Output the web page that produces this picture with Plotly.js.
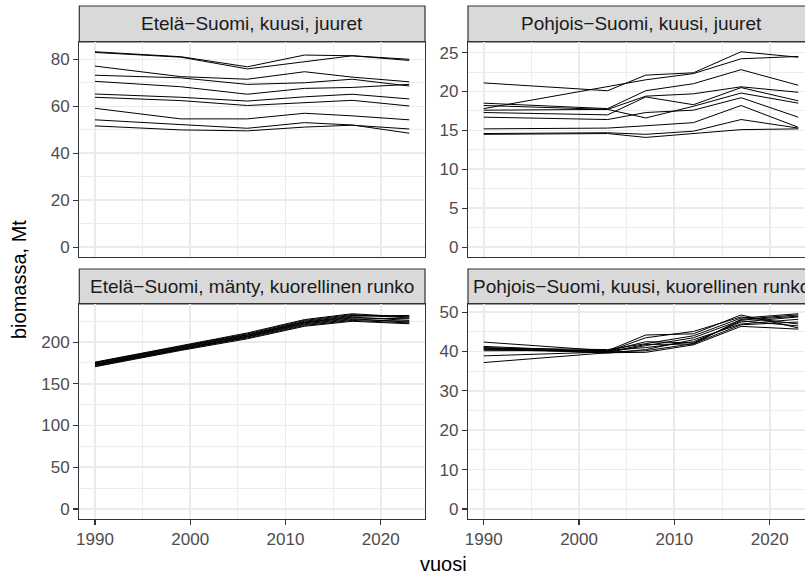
<!DOCTYPE html>
<html>
<head>
<meta charset="utf-8">
<script src="https://cdn.plot.ly/plotly-3.0.1.min.js"></script>
<style>
html,body{margin:0;padding:0;overflow:hidden;background:#fff;width:805px;height:576px;}
#chart{width:815px;height:576px;}
</style>
</head>
<body>
<div id="chart"></div>
<script>
// ---- data ----
const panelTitles = [
  "Etelä−Suomi, kuusi, juuret",
  "Pohjois−Suomi, kuusi, juuret",
  "Etelä−Suomi, mänty, kuorellinen runko",
  "Pohjois−Suomi, kuusi, kuorellinen runko"
];
const yearsSouth = [1990, 1999, 2006, 2012, 2017, 2023];
const yearsNorth = [1990, 2003, 2007, 2012, 2017, 2023];

const etelaKuusiJuuret = [
  [83.3, 81.2, 76.9, 81.9, 81.6, 80.1],
  [83.0, 81.0, 76.0, 79.1, 81.6, 79.6],
  [77.2, 72.7, 71.6, 74.8, 72.5, 70.5],
  [73.3, 72.2, 69.4, 70.1, 71.6, 68.7],
  [70.7, 68.4, 65.2, 67.7, 68.1, 69.4],
  [65.3, 63.9, 62.3, 64.1, 65.2, 63.2],
  [63.9, 62.5, 60.4, 61.6, 62.6, 60.2],
  [59.2, 54.7, 54.7, 57.1, 56.0, 54.3],
  [54.3, 52.1, 50.7, 53.1, 52.1, 48.6],
  [51.7, 50.0, 49.6, 51.2, 52.0, 50.4]
];
const pohjoisKuusiJuuret = [
  [21.1, 20.1, 22.1, 22.4, 25.1, 24.4],
  [17.8, 20.7, 21.5, 22.3, 24.2, 24.5],
  [18.5, 17.8, 20.1, 21.0, 22.8, 20.8],
  [17.6, 17.7, 19.4, 19.7, 20.6, 19.9],
  [17.3, 17.0, 19.3, 18.3, 20.5, 18.8],
  [18.2, 17.7, 16.6, 18.1, 19.8, 18.5],
  [16.7, 16.4, 17.3, 17.6, 19.2, 16.7],
  [15.2, 15.3, 15.6, 16.0, 18.2, 15.4],
  [14.6, 14.7, 14.5, 14.9, 16.4, 15.3],
  [14.5, 14.6, 14.1, 14.6, 15.1, 15.2]
];
const etelaMantyRunko = [
  [176.0, 196.0, 211.0, 227.0, 234.0, 230.0],
  [175.5, 195.0, 210.0, 226.0, 233.0, 229.0],
  [175.0, 194.5, 209.0, 225.0, 232.0, 231.0],
  [174.0, 194.0, 208.5, 224.0, 231.0, 232.0],
  [173.5, 193.0, 208.0, 223.5, 230.0, 226.0],
  [173.0, 192.5, 207.0, 223.0, 229.0, 228.0],
  [172.5, 192.0, 206.5, 222.0, 228.0, 224.0],
  [172.0, 191.5, 206.0, 221.0, 227.0, 225.0],
  [171.0, 191.0, 205.0, 220.0, 226.0, 223.0],
  [170.5, 190.0, 204.0, 219.0, 225.0, 222.0]
];
const pohjoisKuusiRunko = [
  [42.4, 40.2, 44.2, 44.5, 49.3, 46.0],
  [41.3, 40.0, 43.5, 45.1, 48.8, 47.0],
  [40.9, 40.5, 42.0, 44.0, 48.5, 49.6],
  [40.5, 39.8, 41.5, 43.5, 48.0, 49.0],
  [40.2, 40.3, 41.0, 42.5, 47.5, 48.8],
  [40.9, 39.6, 40.5, 43.0, 47.0, 48.2],
  [38.9, 40.0, 40.2, 42.0, 46.8, 47.5],
  [37.2, 39.7, 39.8, 41.7, 46.4, 45.7],
  [40.6, 40.1, 42.5, 42.2, 47.8, 46.5],
  [41.0, 39.9, 41.8, 41.9, 48.2, 49.3]
];
const xTicks = [1990, 2000, 2010, 2020];
const xMinor = [1995, 2005, 2015];
const yTicksList = [[0, 20, 40, 60, 80], [0, 5, 10, 15, 20, 25], [0, 50, 100, 150, 200], [0, 10, 20, 30, 40, 50]];
const yMinorList = [[10, 30, 50, 70], [2.5, 7.5, 12.5, 17.5, 22.5], [25, 75, 125, 175, 225], [5, 15, 25, 35, 45]];

// ---- layout geometry (px) ----
const W = 815, H = 576;
const colPx = [[79.3, 425], [468, 814]];
const rowPx = [[42, 257], [304, 518.7]];
const stripPx = [[6, 42], [269, 304]];
const fx = p => p / W;
const fy = p => 1 - p / H;

const panels = [
  {series: etelaKuusiJuuret, years: yearsSouth, col: 0, row: 0},
  {series: pohjoisKuusiJuuret, years: yearsNorth, col: 1, row: 0},
  {series: etelaMantyRunko, years: yearsSouth, col: 0, row: 1},
  {series: pohjoisKuusiRunko, years: yearsNorth, col: 1, row: 1}
];

const FONT = "Liberation Sans, Arial, Helvetica, sans-serif";
const TICK = 17, STRIP = 19, TITLE = 20;
const traces = [];
const layout = {
  width: W, height: H,
  margin: {l: 0, r: 0, t: 0, b: 0},
  paper_bgcolor: "#ffffff", plot_bgcolor: "#ffffff",
  showlegend: false,
  font: {family: FONT},
  shapes: [], annotations: []
};

panels.forEach((p, i) => {
  const n = i + 1;
  const xa = n === 1 ? "x" : "x" + n;
  const ya = n === 1 ? "y" : "y" + n;
  p.series.forEach(s => {
    traces.push({
      x: p.years, y: s, xaxis: xa, yaxis: ya, type: "scatter", mode: "lines",
      line: {color: "#000000", width: 1}, hoverinfo: "skip"
    });
  });
  const allY = p.series.flat();
  const ymax = Math.max(...allY), ymin = Math.min(0, ...allY);
  const span = ymax - ymin;
  const cx = colPx[p.col], ry = rowPx[p.row];
  const bottomRow = p.row === 1;
  layout["xaxis" + (n === 1 ? "" : n)] = {
    domain: [fx(cx[0]), fx(cx[1])], anchor: ya,
    range: [1988.35, 2024.65],
    tickmode: "array", tickvals: xTicks,
    showticklabels: bottomRow,
    ticks: bottomRow ? "outside" : "", ticklen: 5, tickwidth: 1.2, tickcolor: "#333333",
    tickfont: {size: TICK, color: "#4D4D4D", family: FONT},
    showgrid: true, gridcolor: "#EBEBEB", gridwidth: 1.8,
    minor: {tickmode: "array", tickvals: xMinor, showgrid: true, gridcolor: "#EBEBEB", gridwidth: 0.9, ticks: ""},
    zeroline: false, showline: true, mirror: true, linecolor: "#333333", linewidth: 1.2,
    fixedrange: true
  };
  layout["yaxis" + (n === 1 ? "" : n)] = {
    domain: [fy(ry[1]), fy(ry[0])], anchor: xa,
    range: [ymin - 0.05 * span, ymax + 0.05 * span],
    tickmode: "array", tickvals: yTicksList[i],
    ticks: "outside", ticklen: 5, tickwidth: 1.2, tickcolor: "#333333",
    tickfont: {size: TICK, color: "#4D4D4D", family: FONT},
    showgrid: true, gridcolor: "#EBEBEB", gridwidth: 1.8,
    minor: {tickmode: "array", tickvals: yMinorList[i], showgrid: true, gridcolor: "#EBEBEB", gridwidth: 0.9, ticks: ""},
    zeroline: false, showline: true, mirror: true, linecolor: "#333333", linewidth: 1.2,
    fixedrange: true
  };
  const sp = stripPx[p.row];
  layout.shapes.push({
    type: "rect", xref: "paper", yref: "paper",
    x0: fx(cx[0]), x1: fx(cx[1]), y0: fy(sp[1]), y1: fy(sp[0]),
    fillcolor: "#D9D9D9", line: {color: "#333333", width: 1.2}, layer: "below"
  });
  layout.annotations.push({
    xref: "paper", yref: "paper", x: fx((cx[0] + cx[1]) / 2), y: fy((sp[0] + sp[1]) / 2),
    xanchor: "center", yanchor: "middle", showarrow: false,
    text: panelTitles[i], font: {size: STRIP, color: "#1A1A1A", family: FONT}
  });
});

layout.annotations.push({
  xref: "paper", yref: "paper", x: fx(443), y: fy(564),
  xanchor: "center", yanchor: "middle", showarrow: false,
  text: "vuosi", font: {size: TITLE, color: "#000000", family: FONT}
});
layout.annotations.push({
  xref: "paper", yref: "paper", x: fx(19), y: fy(280),
  xanchor: "center", yanchor: "middle", showarrow: false, textangle: -90,
  text: "biomassa, Mt", font: {size: TITLE, color: "#000000", family: FONT}
});

Plotly.newPlot("chart", traces, layout, {displayModeBar: false, staticPlot: true});
</script>
</body>
</html>
